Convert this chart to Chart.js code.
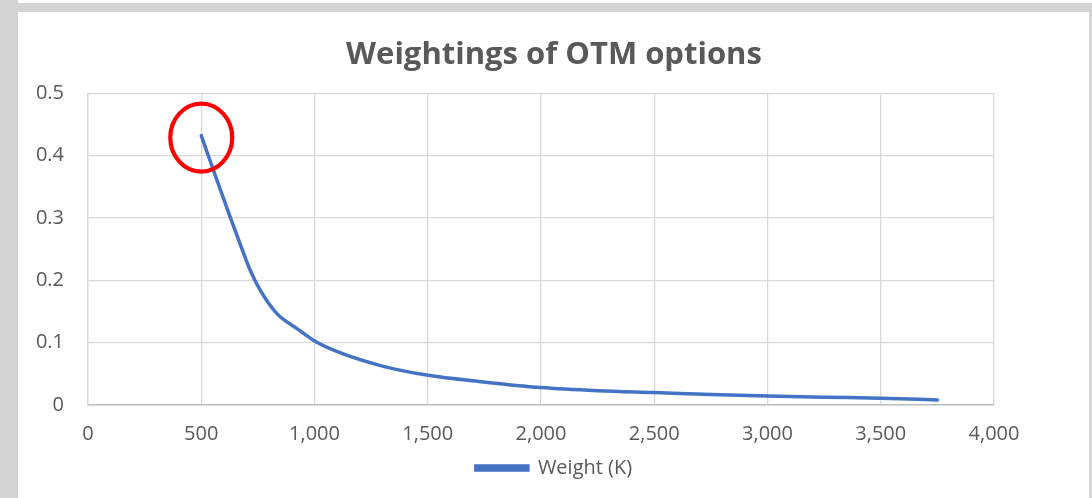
<!DOCTYPE html>
<html>
<head>
<meta charset="utf-8">
<script src="https://cdn.jsdelivr.net/npm/chart.js@4.4.1/dist/chart.umd.min.js"></script>
<style>
  html, body { margin: 0; padding: 0; }
  body { width: 1092px; height: 498px; background: #d4d4d4; position: relative; overflow: hidden; }
  #topstrip { position: absolute; left: 18px; top: 0; width: 1074px; height: 3px; background: #ffffff; }
  #panel { position: absolute; left: 18px; top: 12px; width: 1071px; height: 486px; background: #ffffff; }
  #wrap { position: absolute; left: 0; top: 0; width: 1092px; height: 498px; }
</style>
</head>
<body>
<div id="topstrip"></div>
<div id="panel"></div>
<div id="wrap"><canvas id="c" width="1092" height="498"></canvas></div>
<script>
// Data
const strikes = [500, 560, 627, 680, 715, 759, 833, 921, 995, 1098, 1304, 1495, 1745, 2000, 2250, 2500, 2750, 3000, 3250, 3500, 3750];
const weights = [0.432, 0.37, 0.302, 0.25, 0.217, 0.185, 0.147, 0.123, 0.104, 0.086, 0.062, 0.048, 0.037, 0.028, 0.023, 0.020, 0.017, 0.0145, 0.0125, 0.011, 0.008];
const seriesName = 'Weight (K)';
const chartTitle = 'Weightings of OTM options';
const xTicks = [0, 500, 1000, 1500, 2000, 2500, 3000, 3500, 4000];
const yTicks = [0, 0.1, 0.2, 0.3, 0.4, 0.5];

const points = strikes.map((k, i) => ({ x: k, y: weights[i] }));
const TXT = '#595959';
const FONT = '"Open Sans", "Liberation Sans", sans-serif';

const circlePlugin = {
  id: 'circleMark',
  afterDatasetsDraw(chart) {
    const ctx = chart.ctx;
    const xs = chart.scales.x, ys = chart.scales.y;
    const cx = xs.getPixelForValue(strikes[0]);
    const cy = ys.getPixelForValue(weights[0]) + 2;
    ctx.save();
    ctx.beginPath();
    ctx.ellipse(cx, cy, 31, 34, 0, 0, Math.PI * 2);
    ctx.strokeStyle = '#ff0000';
    ctx.lineWidth = 4.2;
    ctx.stroke();
    ctx.restore();
  }
};

new Chart(document.getElementById('c'), {
  type: 'line',
  data: {
    datasets: [{
      label: seriesName,
      data: points,
      borderColor: '#4472c4',
      backgroundColor: '#4472c4',
      borderWidth: 3.5,
      borderCapStyle: 'round',
      pointRadius: 0,
      cubicInterpolationMode: 'monotone',
      fill: false
    }]
  },
  options: {
    responsive: false,
    animation: false,
    layout: { padding: { top: 37, right: 0, bottom: 10, left: 16 } },
    plugins: {
      title: {
        display: true,
        text: chartTitle,
        color: TXT,
        font: { family: FONT, size: 31, weight: 'bold', lineHeight: 1.2 },
        padding: { top: 0, bottom: 19 }
      },
      legend: {
        position: 'bottom',
        labels: {
          color: TXT,
          font: { family: FONT, size: 20 },
          boxWidth: 52,
          boxHeight: 4,
          padding: 10
        }
      },
      tooltip: { enabled: false }
    },
    scales: {
      x: {
        type: 'linear',
        min: xTicks[0],
        max: xTicks[xTicks.length - 1],
        afterBuildTicks(scale) { scale.ticks = xTicks.map(v => ({ value: v })); },
        afterFit(scale) { scale.height = 43; },
        ticks: {
          color: TXT,
          font: { family: FONT, size: 20 },
          padding: 17,
          maxRotation: 0,
          callback: v => Number(v).toLocaleString('en-US')
        },
        grid: { color: '#d9d9d9', lineWidth: 1.3, drawTicks: false },
        border: { color: '#bfbfbf', width: 1.5 }
      },
      y: {
        min: yTicks[0],
        max: yTicks[yTicks.length - 1],
        afterBuildTicks(scale) { scale.ticks = yTicks.map(v => ({ value: v })); },
        afterFit(scale) { scale.width = 72; },
        ticks: {
          color: TXT,
          font: { family: FONT, size: 20 },
          padding: 24,
          callback: v => String(Math.round(v * 10) / 10)
        },
        grid: { color: '#d9d9d9', lineWidth: 1.3, drawTicks: false },
        border: { color: '#d9d9d9', width: 1.3 }
      },
      yRight: {
        position: 'right',
        display: true,
        afterFit(scale) { scale.width = 98; },
        grid: { display: false, drawTicks: false },
        ticks: { display: false },
        border: { display: false }
      }
    }
  },
  plugins: [circlePlugin]
});
</script>
</body>
</html>
